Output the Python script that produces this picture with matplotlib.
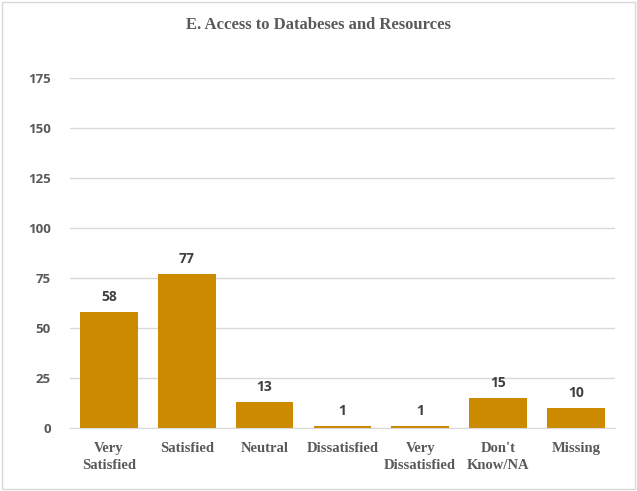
import matplotlib
matplotlib.use("Agg")
import matplotlib.pyplot as plt
from matplotlib.patches import Rectangle

categories = ["Very\nSatisfied", "Satisfied", "Neutral", "Dissatisfied",
              "Very\nDissatisfied", "Don't\nKnow/NA", "Missing"]
values = [58, 77, 13, 1, 1, 15, 10]
yticks = [0, 25, 50, 75, 100, 125, 150, 175]
title = "E. Access to Databeses and Resources"

bar_color = "#CC8A00"
fig = plt.figure(figsize=(6.37, 4.91), dpi=100)
ax = fig.add_axes([0.11, 0.128, 0.855, 0.713])

x = range(len(categories))
bars = ax.bar(x, values, width=0.74, color=bar_color, zorder=3)
ax.set_ylim(0, 175)
ax.set_xlim(-0.5, len(categories) - 0.5)
ax.set_yticks(yticks)
ax.set_yticklabels([str(t) for t in yticks], fontfamily="Open Sans",
                   fontweight="bold", fontsize=9.5, color="#595959")
ax.set_xticks(list(x))
ax.set_xticklabels(categories, fontfamily="Liberation Serif", fontweight="bold",
                   fontsize=10.5, color="#595959", linespacing=1.35)
ax.tick_params(axis="both", length=0)
ax.tick_params(axis="y", pad=14)
ax.tick_params(axis="x", pad=10)
ax.grid(axis="y", color="#D9D9D9", linewidth=1, zorder=0)
for s in ["top", "right", "left"]:
    ax.spines[s].set_visible(False)
ax.spines["bottom"].set_color("#D9D9D9")
ax.spines["bottom"].set_zorder(4)

for xi, v in zip(x, values):
    ax.annotate(str(v), (xi, v), xytext=(0, 6), textcoords="offset points",
                ha="center", va="bottom", fontfamily="Open Sans",
                fontweight="bold", fontsize=10, color="#404040")

fig.text(0.5, 0.949, title, ha="center", va="center", fontfamily="Liberation Serif",
         fontweight="bold", fontsize=12, color="#595959")

fig.patches.append(Rectangle((0.003, 0.004), 0.994, 0.992, transform=fig.transFigure,
                             fill=False, edgecolor="#D9D9D9", linewidth=1))

fig.savefig("out.png", dpi=100, facecolor="white")
